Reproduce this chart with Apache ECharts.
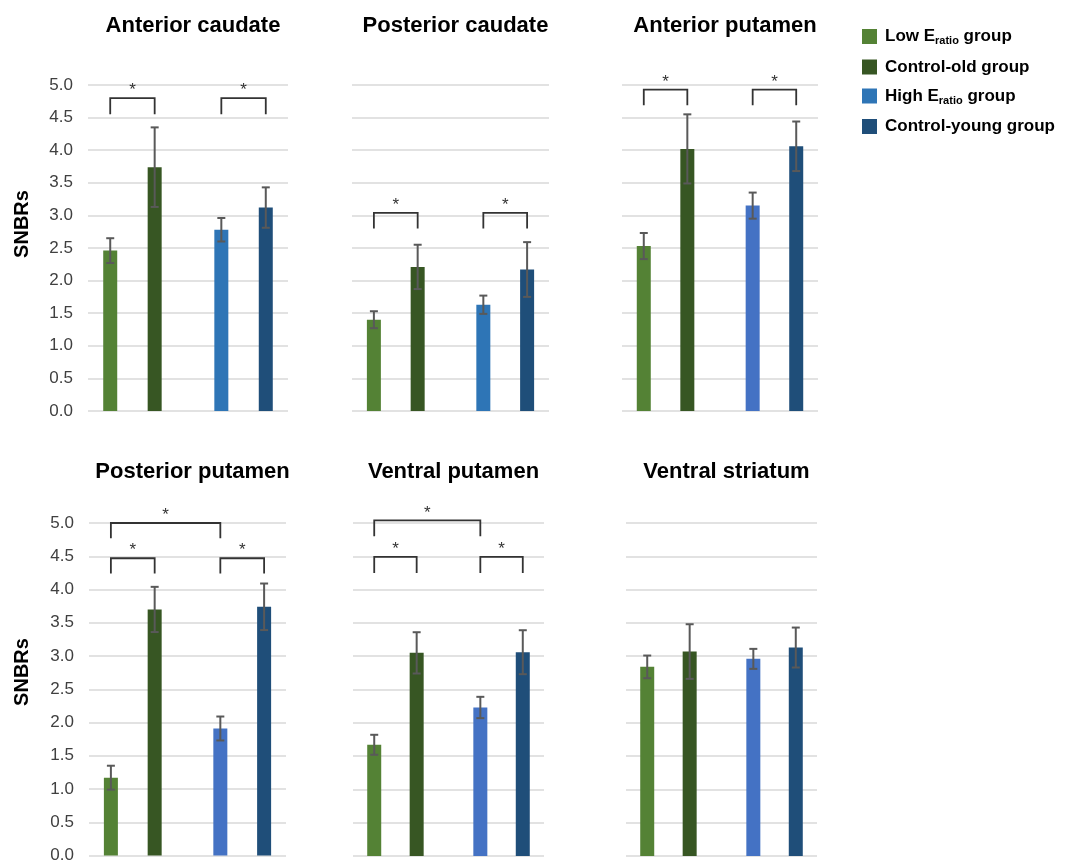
<!DOCTYPE html>
<html>
<head>
<meta charset="utf-8">
<script src="https://cdn.jsdelivr.net/npm/echarts@6/dist/echarts.min.js"></script>
<style>
html,body{margin:0;padding:0;background:#fff;}
#chart{width:1082px;height:864px;}
</style>
</head>
<body>
<div id="chart"></div>
<script>
// ---------- DATA ----------
const panelTitles = ['Anterior caudate', 'Posterior caudate', 'Anterior putamen',
                     'Posterior putamen', 'Ventral putamen', 'Ventral striatum'];
const groupNames = ['Low Eratio group', 'Control-old group', 'High Eratio group', 'Control-young group'];

const lowMean   = [2.46, 1.40, 2.53, 1.17, 1.67, 2.84];
const lowErr    = [0.19, 0.13, 0.20, 0.18, 0.15, 0.17];
const oldMean   = [3.74, 2.21, 4.02, 3.70, 3.05, 3.07];
const oldErr    = [0.61, 0.34, 0.53, 0.34, 0.31, 0.41];
const highMean  = [2.78, 1.63, 3.15, 1.91, 2.23, 2.96];
const highErr   = [0.18, 0.14, 0.20, 0.18, 0.16, 0.15];
const youngMean = [3.12, 2.17, 4.06, 3.74, 3.06, 3.13];
const youngErr  = [0.31, 0.42, 0.38, 0.35, 0.33, 0.30];

const yTicks = [0, 0.5, 1.0, 1.5, 2.0, 2.5, 3.0, 3.5, 4.0, 4.5, 5.0];
const yAxisTitle = 'SNBRs';

// significance brackets per panel: [fromGroup, toGroup, bracketTop, legBottom]
const sigBrackets = [
  [[0, 1, 4.80, 4.55], [2, 3, 4.80, 4.55]],
  [[0, 1, 3.04, 2.80], [2, 3, 3.04, 2.80]],
  [[0, 1, 4.93, 4.69], [2, 3, 4.93, 4.69]],
  [[0, 1, 4.47, 4.24], [2, 3, 4.47, 4.24], [0, 2, 5.00, 4.77]],
  [[0, 1, 4.49, 4.25], [2, 3, 4.49, 4.25], [0, 2, 5.04, 4.80]],
  []
];
const sigLabel = '*';

// ---------- LAYOUT / STYLE ----------
const grids = [
  {left: 88,  top: 85,  width: 200, height: 326},
  {left: 352, top: 85,  width: 197, height: 326},
  {left: 622, top: 85,  width: 196, height: 326},
  {left: 89,  top: 523, width: 197, height: 333},
  {left: 353, top: 523, width: 191, height: 333},
  {left: 626, top: 523, width: 191, height: 333}
];
const slotPos = [1, 3, 6, 8];      // horizontal slot of each group within a panel
const slotRange = [0, 9];
const groupColors = ['#548235', '#375623', '#4472C4', '#1F4E79'];
const highColorOverride = {0: '#2E75B6', 1: '#2E75B6'};
const fontFam = '"Liberation Sans", Arial, sans-serif';

const means = [lowMean, oldMean, highMean, youngMean];
const errs  = [lowErr, oldErr, highErr, youngErr];

const option = {
  animation: false,
  backgroundColor: '#ffffff',
  title: [],
  grid: [],
  xAxis: [],
  yAxis: [],
  series: [],
  graphic: [],
  legend: {
    orient: 'vertical',
    left: 857,
    top: 23,
    itemWidth: 15,
    itemHeight: 15,
    itemGap: 12,
    icon: 'rect',
    data: groupNames,
    textStyle: {
      fontFamily: fontFam, fontSize: 17, fontWeight: 'bold', color: '#000',
      padding: [0, 0, 0, 3],
      rich: {
        m: {fontFamily: fontFam, fontSize: 17, fontWeight: 'bold', color: '#000'},
        s: {fontFamily: fontFam, fontSize: 11, fontWeight: 'bold', color: '#000', padding: [9, 0, 0, 0]}
      }
    },
    formatter: function (name) {
      if (name.indexOf('Eratio') >= 0) {
        const parts = name.split('Eratio');
        return '{m|' + parts[0] + 'E}{s|ratio}{m|' + parts[1] + '}';
      }
      return '{m|' + name + '}';
    }
  }
};

grids.forEach(function (g, p) {
  option.grid.push(Object.assign({containLabel: false}, g));
  option.title.push({
    text: panelTitles[p],
    left: g.left + g.width / 2,
    top: p < 3 ? 10 : 456,
    textAlign: 'center',
    textStyle: {fontFamily: fontFam, fontSize: 22, fontWeight: 'bold', color: '#000'}
  });
  option.xAxis.push({
    type: 'value', gridIndex: p, min: slotRange[0], max: slotRange[1],
    axisLine: {show: false}, axisTick: {show: false}, axisLabel: {show: false}, splitLine: {show: false}
  });
  option.yAxis.push({
    type: 'value', gridIndex: p, min: yTicks[0], max: yTicks[yTicks.length - 1],
    interval: yTicks[1] - yTicks[0],
    axisLine: {show: false}, axisTick: {show: false},
    axisLabel: {
      show: (p === 0 || p === 3), margin: 15,
      fontFamily: fontFam, fontSize: 17, color: '#404040',
      formatter: function (v) { return v.toFixed(1); }
    },
    splitLine: {show: true, lineStyle: {color: '#d9d9d9', width: 1.5}}
  });

  // bars
  groupNames.forEach(function (name, gi) {
    let color = groupColors[gi];
    if (gi === 2 && highColorOverride[p]) color = highColorOverride[p];
    option.series.push({
      type: 'bar', name: name, xAxisIndex: p, yAxisIndex: p,
      barWidth: 14, barGap: '-100%',
      itemStyle: {color: color},
      data: [[slotPos[gi], means[gi][p]]],
      z: 2
    });
  });

  // error bars
  option.series.push({
    type: 'custom', xAxisIndex: p, yAxisIndex: p, z: 4, clip: false,
    data: groupNames.map(function (n, gi) { return [slotPos[gi], means[gi][p], errs[gi][p]]; }),
    encode: {x: 0, y: 1},
    renderItem: function (params, api) {
      const x = api.value(0), m = api.value(1), e = api.value(2);
      const top = api.coord([x, m + e]);
      const bot = api.coord([x, m - e]);
      const cap = 4;
      const st = {stroke: '#595959', lineWidth: 2};
      return {
        type: 'group',
        children: [
          {type: 'line', shape: {x1: top[0], y1: top[1], x2: bot[0], y2: bot[1]}, style: st},
          {type: 'line', shape: {x1: top[0] - cap, y1: top[1], x2: top[0] + cap, y2: top[1]}, style: st},
          {type: 'line', shape: {x1: bot[0] - cap, y1: bot[1], x2: bot[0] + cap, y2: bot[1]}, style: st}
        ]
      };
    }
  });

  // significance brackets
  if (sigBrackets[p].length) {
    option.series.push({
      type: 'custom', xAxisIndex: p, yAxisIndex: p, z: 5, clip: false,
      data: sigBrackets[p].map(function (b) { return [slotPos[b[0]], slotPos[b[1]], b[2], b[3]]; }),
      encode: {x: [0, 1], y: [2, 3]},
      renderItem: function (params, api) {
        const a = api.coord([api.value(0), api.value(2)]);
        const b = api.coord([api.value(1), api.value(2)]);
        const aLeg = api.coord([api.value(0), api.value(3)]);
        const bLeg = api.coord([api.value(1), api.value(3)]);
        return {
          type: 'group',
          children: [
            {type: 'polyline', shape: {points: [[aLeg[0], aLeg[1]], [a[0], a[1]], [b[0], b[1]], [bLeg[0], bLeg[1]]]},
             style: {stroke: '#333333', lineWidth: 1.8, fill: null}},
            {type: 'text', x: (a[0] + b[0]) / 2, y: a[1] + 1,
             style: {text: sigLabel, fontFamily: fontFam, fontSize: 17, fill: '#333333',
                     textAlign: 'center', textVerticalAlign: 'bottom'}}
          ]
        };
      }
    });
  }
});

// y-axis titles
[{x: 22, y: 224}, {x: 22, y: 672}].forEach(function (pos) {
  option.graphic.push({
    type: 'text', x: pos.x, y: pos.y, rotation: Math.PI / 2,
    style: {text: yAxisTitle, fontFamily: fontFam, fontSize: 20, fontWeight: 'bold', fill: '#000',
            textAlign: 'center', textVerticalAlign: 'middle'}
  });
});

const chart = echarts.init(document.getElementById('chart'), null, {renderer: 'canvas'});
chart.setOption(option);
</script>
</body>
</html>
